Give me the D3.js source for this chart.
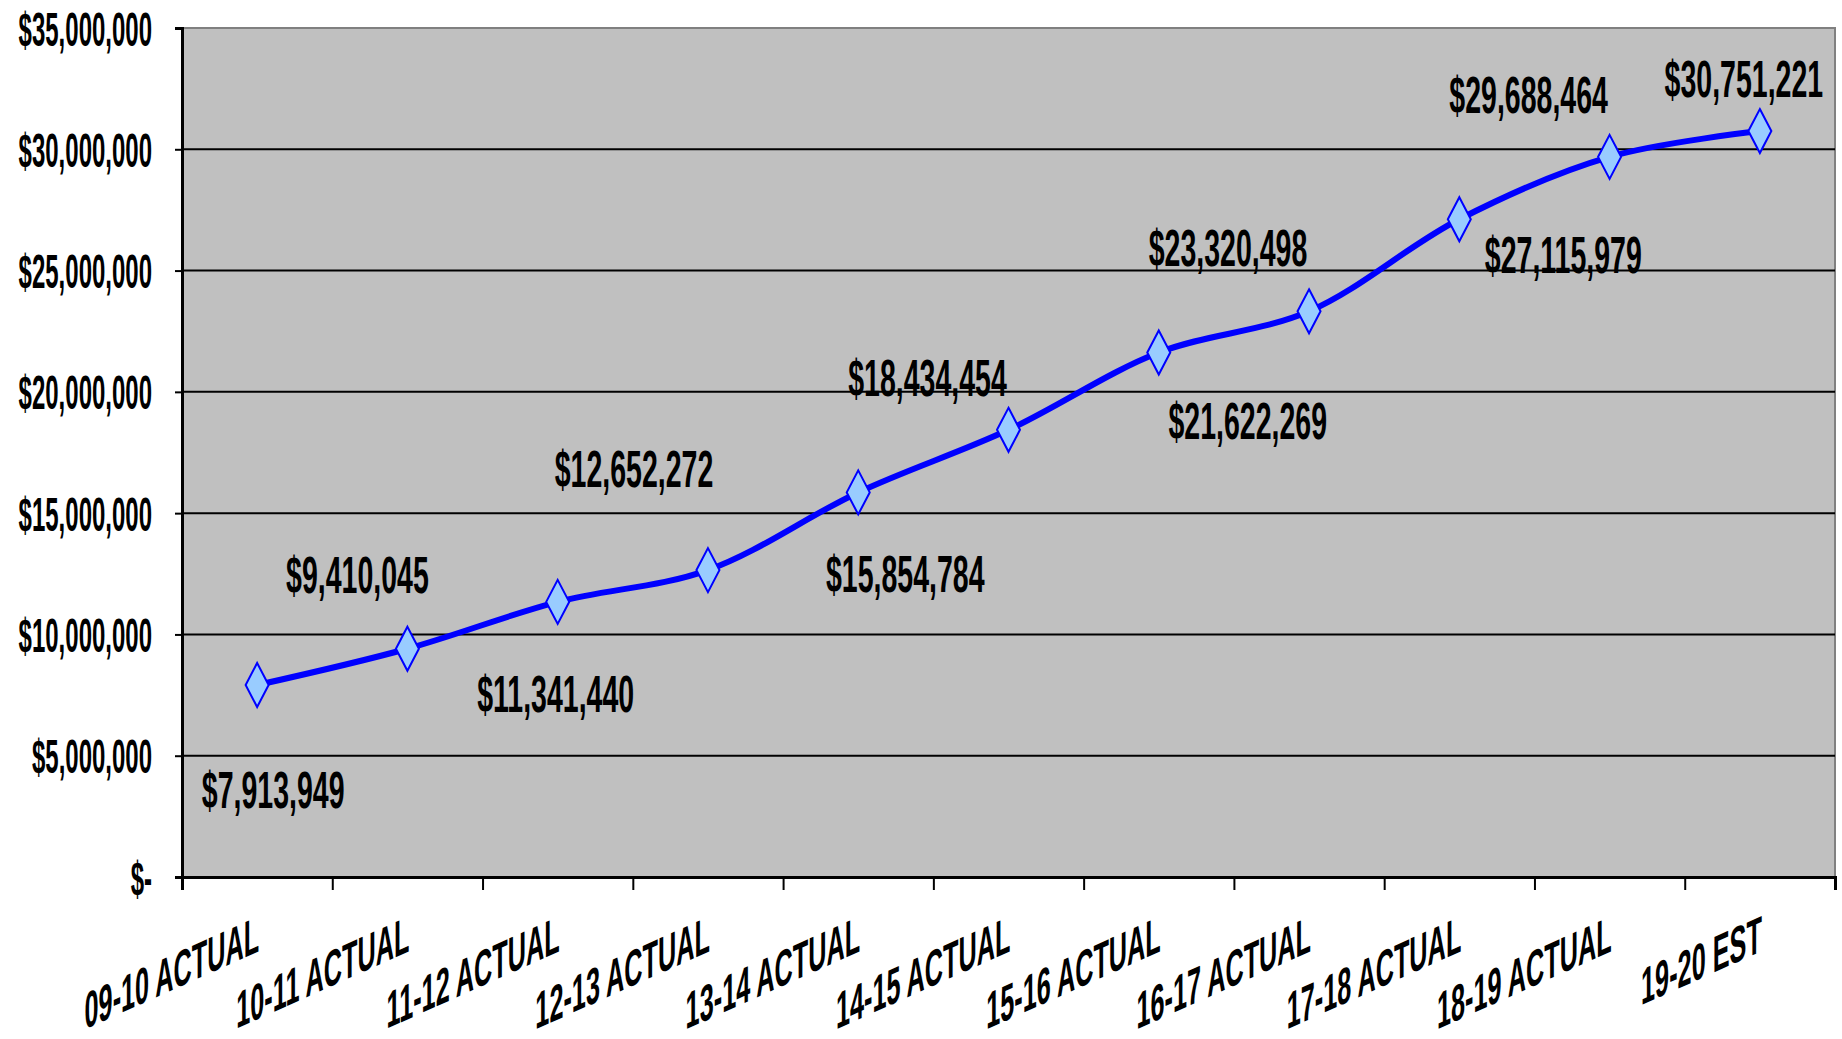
<!DOCTYPE html>
<html>
<head>
<meta charset="utf-8">
<script src="https://cdn.jsdelivr.net/npm/d3@7"></script>
<style>
  body { margin: 0; background: #fff; }
  text { font-family: "Liberation Sans", Arial, sans-serif; font-weight: bold; fill: #000; }
</style>
</head>
<body>
<div id="chart"></div>
<script>
var categories = ["09-10 ACTUAL", "10-11 ACTUAL", "11-12 ACTUAL", "12-13 ACTUAL", "13-14 ACTUAL",
  "14-15 ACTUAL", "15-16 ACTUAL", "16-17 ACTUAL", "17-18 ACTUAL", "18-19 ACTUAL", "19-20 EST"];
var values = [7913949, 9410045, 11341440, 12652272, 15854784, 18434454,
  21622269, 23320498, 27115979, 29688464, 30751221];
var yTicks = [0, 5000000, 10000000, 15000000, 20000000, 25000000, 30000000, 35000000];

// where each data label sits relative to its marker (px)
var labelOffsets = [[16, 104], [-50, -75], [-2, 91], [-74, -102], [47, 81], [-81, -53],
  [89, 68], [-81, -64], [104, 35], [-81, -63], [-16, -53]];

var W = 1842, H = 1039;
var margin = {top: 28, right: 7, bottom: 162, left: 182};
var width = W - margin.left - margin.right;
var height = H - margin.top - margin.bottom;

var svg = d3.select("#chart").append("svg")
  .attr("width", W)
  .attr("height", H)
  .append("g")
  .attr("transform", `translate(${margin.left},${margin.top})`);

var x = d3.scaleLinear().domain([0, categories.length]).range([0, width]);
var y = d3.scaleLinear().domain([0, 35000000]).range([height, 0]);

svg.append("rect")
  .attr("width", width)
  .attr("height", height)
  .attr("fill", "#c0c0c0")
  .attr("stroke", "#808080")
  .attr("stroke-width", 2);

// gridlines
svg.selectAll(".grid")
  .data(yTicks.filter(d => d > 0 && d < 35000000))
  .enter().append("line")
  .attr("x1", 0).attr("x2", width)
  .attr("y1", d => y(d)).attr("y2", d => y(d))
  .attr("stroke", "#000")
  .attr("stroke-width", 2);

var fmt = d3.format(",");
var yAxis = d3.axisLeft(y)
  .tickValues(yTicks)
  .tickSize(7)
  .tickFormat(d => d === 0 ? "$-" : "$" + fmt(d));

var gy = svg.append("g").call(yAxis);
gy.select(".domain").attr("stroke", "#000").attr("stroke-width", 3);
gy.selectAll(".tick line").attr("stroke", "#000").attr("stroke-width", 2);
gy.selectAll(".tick text")
  .attr("font-size", 30)
  .attr("font-family", null)
  .attr("x", 0)
  .attr("dy", "0.36em")
  .attr("transform", "translate(-30,0) scale(0.8,1.58)");

var xAxis = d3.axisBottom(x)
  .tickValues(d3.range(categories.length + 1))
  .tickSize(13)
  .tickFormat("");

var gx = svg.append("g")
  .attr("transform", `translate(0,${height})`)
  .call(xAxis);
gx.select(".domain").attr("stroke", "#000").attr("stroke-width", 3);
gx.selectAll(".tick line").attr("stroke", "#000").attr("stroke-width", 2);

// category labels: baseline rises ~24deg, glyphs stretched tall
svg.selectAll(".xlab")
  .data(categories)
  .enter().append("text")
  .attr("class", "xlab")
  .attr("font-size", 32)
  .attr("text-anchor", "end")
  .attr("transform", (d, i) => `translate(${x(i + 0.5) + 2},${height + 74}) matrix(0.79,-0.355,0,1.6,0,0)`)
  .text(d => d);

var line = d3.line()
  .x((d, i) => x(i + 0.5))
  .y(d => y(d))
  .curve(d3.curveCatmullRom.alpha(0.5));

svg.append("path")
  .datum(values)
  .attr("fill", "none")
  .attr("stroke", "#0000ff")
  .attr("stroke-width", 6)
  .attr("stroke-linejoin", "round")
  .attr("d", line);

svg.selectAll(".marker")
  .data(values)
  .enter().append("path")
  .attr("class", "marker")
  .attr("transform", (d, i) => `translate(${x(i + 0.5)},${y(d)})`)
  .attr("d", "M0,-22L11.5,0L0,22L-11.5,0Z")
  .attr("fill", "#99ccff")
  .attr("stroke", "#0000ff")
  .attr("stroke-width", 2);

svg.selectAll(".dlab")
  .data(values)
  .enter().append("text")
  .attr("class", "dlab")
  .attr("font-size", 35)
  .attr("text-anchor", "middle")
  .attr("dy", "0.36em")
  .attr("transform", (d, i) => `translate(${x(i + 0.5) + labelOffsets[i][0]},${y(d) + labelOffsets[i][1]}) scale(0.815,1.5)`)
  .text(d => "$" + fmt(d));
</script>
</body>
</html>
